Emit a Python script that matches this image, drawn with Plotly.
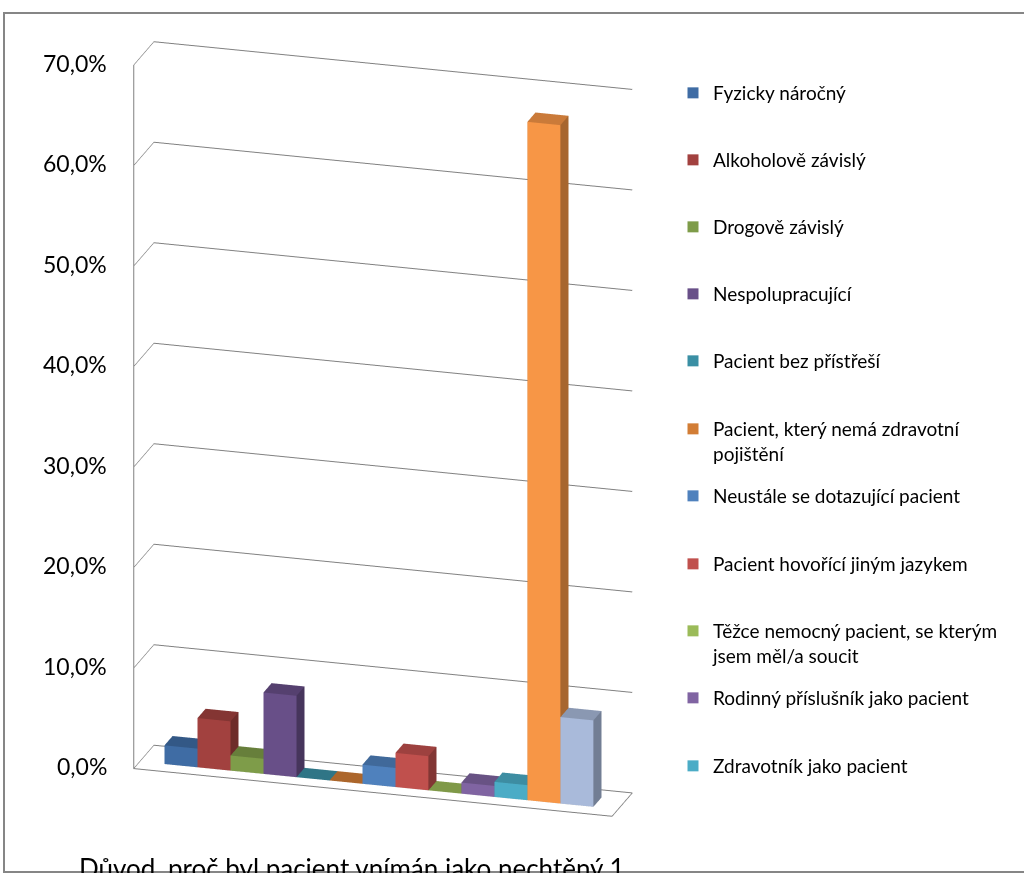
import plotly.graph_objects as go

# ---- data ----
series_names = [
    "Fyzicky náročný",
    "Alkoholově závislý",
    "Drogově závislý",
    "Nespolupracující",
    "Pacient bez přístřeší",
    "Pacient, který nemá zdravotní<br>pojištění",
    "Neustále se dotazující pacient",
    "Pacient hovořící jiným jazykem",
    "Těžce nemocný pacient, se kterým<br>jsem měl/a soucit",
    "Rodinný příslušník jako pacient",
    "Zdravotník jako pacient",
    "Další 1",
    "Další 2",
]
values = [0.0186, 0.049, 0.015, 0.081, 0.0, 0.0, 0.019, 0.034, 0.0, 0.011, 0.015, 0.675, 0.086]
show_in_legend = [True] * 11 + [False, False]
category_title = "Důvod, proč byl pacient vnímán jako nechtěný 1"
tick_values = [0.0, 0.1, 0.2, 0.3, 0.4, 0.5, 0.6, 0.7]
tick_labels = ["0,0%", "10,0%", "20,0%", "30,0%", "40,0%", "50,0%", "60,0%", "70,0%"]

# ---- style ----
colors = ["#3F6CA4", "#A2413F", "#7E9C49", "#684F88", "#3A8FA4", "#D27D35",
          "#4F81BD", "#C0504D", "#9BBB59", "#8064A2", "#4BACC6", "#F79646", "#A9BADA"]
FONT = "Lato"
GRID = "#808080"
X_RANGE = [-1.25, 13.25]
Y_RANGE = [0, 1]
Z_RANGE = [0, 0.7]


def shade(hex_color, f):
    h = hex_color.lstrip("#")
    r, g, b = (int(h[i:i + 2], 16) for i in (0, 2, 4))
    return "#%02x%02x%02x" % (int(r * f), int(g * f), int(b * f))


fig = go.Figure()

half_w = 0.5
y0, y1 = 0.3, 0.7
for i, (name, v, c) in enumerate(zip(series_names, values, colors)):
    x0, x1 = i - half_w, i + half_w
    xs = [x0, x1, x1, x0, x0, x1, x1, x0]
    ys = [y0, y0, y1, y1, y0, y0, y1, y1]
    zs = [0, 0, 0, 0, v, v, v, v]
    tri = [(0, 1, 2), (0, 2, 3),   # bottom
           (4, 5, 6), (4, 6, 7),   # top
           (0, 1, 5), (0, 5, 4),   # front
           (3, 2, 6), (3, 6, 7),   # back
           (0, 3, 7), (0, 7, 4),   # left
           (1, 2, 6), (1, 6, 5)]   # right
    fc = [shade(c, 0.6)] * 2 + [shade(c, 0.82)] * 2 + [c] * 2 + [shade(c, 0.6)] * 2 \
        + [shade(c, 0.7)] * 2 + [shade(c, 0.68)] * 2
    fig.add_trace(go.Mesh3d(
        x=xs, y=ys, z=zs,
        i=[t[0] for t in tri], j=[t[1] for t in tri], k=[t[2] for t in tri],
        facecolor=fc, flatshading=True,
        lighting=dict(ambient=1, diffuse=0, specular=0, roughness=1, fresnel=0),
        name=name.replace("<br>", " "), showlegend=False, hoverinfo="name+z",
    ))

# vertical value-axis line along the front-left edge of the plot box
fig.add_trace(go.Scatter3d(
    x=[X_RANGE[0], X_RANGE[0]], y=[Y_RANGE[0], Y_RANGE[0]], z=Z_RANGE,
    mode="lines", line=dict(color=GRID, width=2),
    showlegend=False, hoverinfo="skip",
))

# legend entries (one small legend per entry, to reproduce the fixed spacing)
legend_rows = [94, 161, 228, 295, 362, 430, 497, 565, 632, 699, 767]
k = 0
for i, (name, c, show) in enumerate(zip(series_names, colors, show_in_legend)):
    if not show:
        continue
    lname = "legend" if k == 0 else "legend%d" % (k + 1)
    fig.add_trace(go.Scatter(
        x=[None], y=[None], mode="markers",
        marker=dict(symbol="square", size=11, color=c),
        name=name, legend=lname, showlegend=True,
    ))
    fig.layout[lname] = dict(
        x=673 / 1024, xanchor="left",
        y=1 - (legend_rows[k] - 20) / 873, yanchor="top",
        bgcolor="rgba(0,0,0,0)", borderwidth=0,
        font=dict(family=FONT, size=19, color="#000000"),
        valign="top", itemclick=False, itemdoubleclick=False,
    )
    k += 1

# value-axis labels placed at the tick positions on the front-left edge
tick_annotations = [
    dict(x=X_RANGE[0], y=Y_RANGE[0], z=tv, text=tt, showarrow=False,
         xanchor="right", yanchor="middle", xshift=-25, yshift=2,
         font=dict(family=FONT, size=23, color="#000000"))
    for tv, tt in zip(tick_values, tick_labels)
]

fig.update_layout(
    width=1024, height=873,
    margin=dict(l=0, r=0, t=0, b=0),
    paper_bgcolor="white", plot_bgcolor="white",
    xaxis=dict(visible=False), yaxis=dict(visible=False),
    scene=dict(
        domain=dict(x=[0.034, 0.714], y=[0.029, 0.989]),
        aspectmode="manual",
        aspectratio=dict(x=1.19, y=0.171, z=1.785),
        xaxis=dict(range=X_RANGE, showgrid=False, showticklabels=False,
                   title=dict(text=""), showline=True, linecolor=GRID, linewidth=2,
                   zeroline=False, showbackground=False, showspikes=False, ticks=""),
        yaxis=dict(range=Y_RANGE, showgrid=False, showticklabels=False,
                   title=dict(text=""), showline=True, linecolor=GRID, linewidth=2,
                   zeroline=False, showbackground=False, showspikes=False, ticks=""),
        zaxis=dict(range=Z_RANGE, tickvals=tick_values, ticktext=tick_labels,
                   showticklabels=False,
                   showgrid=True, gridcolor=GRID, gridwidth=2,
                   showline=True, linecolor=GRID, linewidth=2,
                   ticks="", title=dict(text=""), zeroline=False,
                   showbackground=False, showspikes=False),
        camera=dict(eye=dict(x=0.446, y=-1.518, z=0.571), center=dict(x=0, y=0, z=0),
                    up=dict(x=0, y=0, z=1), projection=dict(type="orthographic")),
        annotations=tick_annotations,
        dragmode=False,
    ),
    annotations=[dict(
        text=category_title, xref="paper", yref="paper",
        x=352 / 1024, y=1 - 850 / 873, xanchor="center", yanchor="top",
        showarrow=False, font=dict(family=FONT, size=26, color="#000000"),
    )],
    shapes=[dict(
        type="rect", xref="paper", yref="paper",
        x0=4 / 1024, x1=1.05, y0=1 - 872 / 873, y1=1 - 13 / 873,
        line=dict(color="#868686", width=2), fillcolor="rgba(0,0,0,0)",
    )],
)

fig.write_html("out.html")
